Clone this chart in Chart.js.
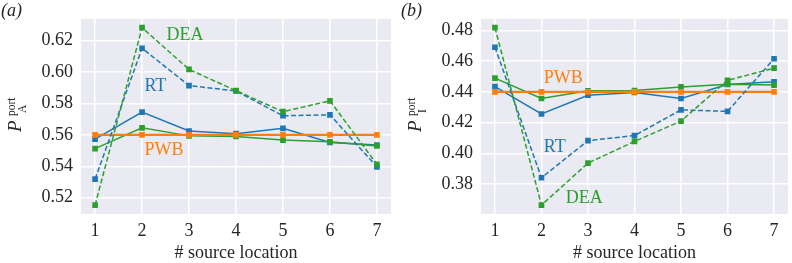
<!DOCTYPE html>
<html>
<head>
<meta charset="utf-8">
<script src="https://cdn.jsdelivr.net/npm/chart.js@4.4.1/dist/chart.umd.min.js"></script>
<style>
  html, body { margin: 0; padding: 0; background: #fff; }
  #wrap { position: relative; width: 792px; height: 263px; }
  #chartA { position: absolute; left: 0; top: 0; }
  #chartB { position: absolute; left: 400px; top: 0; }
</style>
</head>
<body>
<div id="wrap">
  <canvas id="chartA" width="400" height="263"></canvas>
  <canvas id="chartB" width="392" height="263"></canvas>
</div>
<script>
// x categories
const sourceLocations = [1, 2, 3, 4, 5, 6, 7];

// panel (a)  P_A^port
const rtSolidA   = [0.5573, 0.5745, 0.5625, 0.5608, 0.5642, 0.5552, 0.5536];
const deaSolidA  = [0.5513, 0.5645, 0.5594, 0.5590, 0.5567, 0.5556, 0.5530];
const pwbA       = [0.56, 0.56, 0.56, 0.56, 0.56, 0.56, 0.56];
const rtDashedA  = [0.5319, 0.6152, 0.5914, 0.5880, 0.5722, 0.5728, 0.5397];
const deaDashedA = [0.5153, 0.6283, 0.6017, 0.5882, 0.5748, 0.5817, 0.5413];
const yTicksA    = [0.52, 0.54, 0.56, 0.58, 0.60, 0.62];

// panel (b)  P_I^port
const rtSolidB   = [0.4434, 0.4256, 0.4378, 0.4396, 0.4357, 0.4448, 0.4465];
const deaSolidB  = [0.4489, 0.4357, 0.4407, 0.4408, 0.4432, 0.4450, 0.4444];
const pwbB       = [0.44, 0.44, 0.44, 0.44, 0.44, 0.44, 0.44];
const rtDashedB  = [0.4690, 0.3842, 0.4083, 0.4116, 0.4283, 0.4273, 0.4615];
const deaDashedB = [0.4817, 0.3664, 0.3937, 0.4078, 0.4210, 0.4475, 0.4554];
const yTicksB    = [0.38, 0.40, 0.42, 0.44, 0.46, 0.48];

const BLUE = '#1f77b4', ORANGE = '#ff7f0e', GREEN = '#2ca02c';
const SERIF = '"Liberation Serif", "DejaVu Serif", serif';
const TXT = '#262626';

function pts(arr) {
    return arr.map((v, i) => ({ x: sourceLocations[i], y: v }));
}

function line(data, color, dashed, width) {
    return {
        data: pts(data),
        borderColor: color,
        backgroundColor: color,
        borderWidth: width || 1.5,
        borderDash: dashed ? [5, 2.5] : [],
        pointStyle: 'rect',
        pointRadius: 4,
        pointBorderWidth: 0,
        tension: 0,
        fill: false
    };
}

function range(all) {
    const lo = Math.min(...all), hi = Math.max(...all);
    const m = (hi - lo) * 0.05;
    return [lo - m, hi + m];
}

const panelPlugin = {
    id: 'panel',
    beforeDraw(chart) {
        const a = chart.chartArea, ctx = chart.ctx;
        ctx.save();
        ctx.fillStyle = '#eaeaf2';
        ctx.fillRect(a.left, a.top, a.right - a.left, a.bottom - a.top);
        ctx.restore();
    },
    afterDraw(chart) {
        const o = chart.options.plugins.panel;
        const ctx = chart.ctx, xs = chart.scales.x, ys = chart.scales.y;
        ctx.save();
        // panel letter
        ctx.fillStyle = TXT;
        ctx.textBaseline = 'alphabetic';
        ctx.textAlign = 'left';
        ctx.font = 'italic 18px ' + SERIF;
        ctx.fillText('(' + o.letter + ')', 1, 16);
        // y title with sub/superscript
        ctx.translate(21, 132);
        ctx.rotate(-Math.PI / 2);
        ctx.font = 'italic 19px ' + SERIF;
        ctx.fillText('P', 0, 0);
        ctx.font = '11.5px ' + SERIF;
        ctx.fillText('port', 16, -6);
        ctx.fillText(o.sub, 19, 5);
        ctx.restore();
        // series labels
        ctx.save();
        ctx.font = '18px ' + SERIF;
        ctx.textBaseline = 'middle';
        ctx.textAlign = 'left';
        o.labels.forEach(l => {
            ctx.fillStyle = l.color;
            ctx.fillText(l.text, xs.getPixelForValue(l.x), ys.getPixelForValue(l.y));
        });
        ctx.restore();
    }
};

function makeChart(id, sets, yTicks, letter, sub, labels, padRight) {
    const all = [].concat(...sets.map(s => s[0]));
    const [ymin, ymax] = range(all);
    const font = { family: SERIF, size: 18 };
    return new Chart(document.getElementById(id), {
        type: 'line',
        data: {
            datasets: sets.map(s => line(s[0], s[1], s[2], s[3]))
        },
        options: {
            responsive: false,
            animation: false,
            layout: { padding: { top: 15, right: padRight, bottom: 0, left: 0 } },
            scales: {
                x: {
                    type: 'linear',
                    min: 0.7,
                    max: 7.3,
                    afterBuildTicks: s => { s.ticks = sourceLocations.map(v => ({ value: v })); },
                    afterFit: s => { s.height = 49; },
                    grid: { color: '#ffffff', lineWidth: 1.5, drawTicks: false },
                    border: { display: false },
                    ticks: { font: font, color: TXT, padding: 6, callback: v => String(v) },
                    title: { display: true, text: '# source location', font: { family: SERIF, size: 18, lineHeight: 1.05 }, color: TXT, padding: 0 }
                },
                y: {
                    min: ymin,
                    max: ymax,
                    afterBuildTicks: s => { s.ticks = yTicks.map(v => ({ value: v })); },
                    afterFit: s => { s.width = 81; },
                    grid: { color: '#ffffff', lineWidth: 1.5, drawTicks: false },
                    border: { display: false },
                    ticks: { font: font, color: TXT, padding: 8, callback: v => v.toFixed(2) }
                }
            },
            plugins: {
                legend: { display: false },
                tooltip: { enabled: false },
                panel: { letter: letter, sub: sub, labels: labels }
            }
        },
        plugins: [panelPlugin]
    });
}

makeChart('chartA', [
    [deaDashedA, GREEN, true],
    [rtDashedA, BLUE, true],
    [pwbA, ORANGE, false, 2.2],
    [deaSolidA, GREEN, false],
    [rtSolidA, BLUE, false]
], yTicksA, 'a', 'A', [
    { text: 'DEA', color: GREEN, x: 2.52, y: 0.6233 },
    { text: 'RT', color: BLUE, x: 2.05, y: 0.591 },
    { text: 'PWB', color: ORANGE, x: 2.05, y: 0.550 }
], 9);

makeChart('chartB', [
    [deaDashedB, GREEN, true],
    [rtDashedB, BLUE, true],
    [pwbB, ORANGE, false, 2.2],
    [deaSolidB, GREEN, false],
    [rtSolidB, BLUE, false]
], yTicksB, 'b', 'I', [
    { text: 'PWB', color: ORANGE, x: 2.05, y: 0.4486 },
    { text: 'RT', color: BLUE, x: 2.05, y: 0.4042 },
    { text: 'DEA', color: GREEN, x: 2.52, y: 0.3707 }
], 1);
</script>
</body>
</html>
